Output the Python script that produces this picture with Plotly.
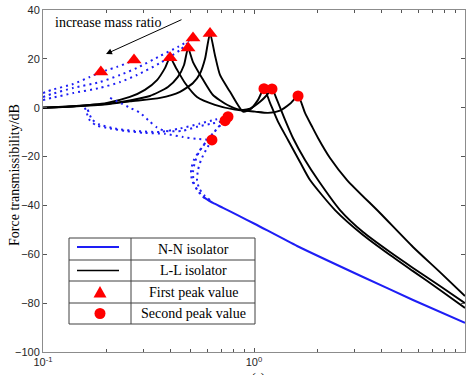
import plotly.graph_objects as go

# ---- L-L isolator (linear), three mass ratios ----
ll_a_f = [0.100, 0.139, 0.201, 0.258, 0.304, 0.347, 0.379, 0.400, 0.427, 0.471, 0.537, 0.653, 0.813,
          1.011, 1.165, 1.328, 1.481, 1.617, 1.745, 1.883, 2.011, 2.292, 2.760, 3.955, 5.669, 7.61, 10.0]
ll_a_db = [0.0, 0.6, 2.0, 4.4, 7.3, 11.3, 16.3, 20.5, 16.3, 10.1, 4.4, 1.2, -0.8,
           -1.6, -2.1, -1.2, 1.6, 4.8, -2.1, -7.7, -12.4, -20.6, -29.6, -43.1, -57.0, -67.3, -77.1]

ll_b_f = [0.100, 0.139, 0.201, 0.258, 0.321, 0.391, 0.436, 0.466, 0.487, 0.514, 0.567, 0.639, 0.745,
          0.858, 0.957, 1.068, 1.152, 1.217, 1.285, 1.402, 1.530, 1.745, 2.011, 2.557, 3.286, 4.411,
          5.669, 7.61, 10.0]
ll_b_db = [0.0, 0.6, 1.6, 3.0, 4.8, 8.5, 12.6, 17.5, 24.4, 18.7, 12.2, 5.2, 1.2,
           -0.8, -0.4, 2.4, 5.2, 7.7, 3.2, -4.9, -12.4, -21.4, -29.6, -41.9, -50.9, -59.1,
           -65.6, -73.0, -80.0]

ll_c_f = [0.100, 0.139, 0.201, 0.258, 0.359, 0.446, 0.514, 0.555, 0.586, 0.619, 0.653, 0.690, 0.770,
          0.887, 0.957, 1.045, 1.115, 1.191, 1.299, 1.449, 1.652, 1.843, 2.421, 3.286, 4.411, 5.669,
          7.61, 10.0]
ll_c_db = [0.0, 0.5, 1.4, 2.6, 4.0, 6.5, 10.1, 14.0, 20.0, 30.4, 21.5, 13.4, 6.5,
           -1.6, -0.8, 3.2, 7.8, 2.0, -5.7, -13.2, -22.2, -29.6, -41.9, -52.1, -60.3, -66.9,
           -74.6, -82.0]

# ---- N-N isolator (nonlinear) branches ----
nn_up_1_f = [0.100, 0.110, 0.139, 0.167, 0.188, 0.201, 0.224, 0.258, 0.270]
nn_up_1_db = [6.0, 7.3, 9.7, 12.6, 14.6, 15.4, 16.7, 18.7, 19.5]
nn_up_2_f = [0.100, 0.110, 0.139, 0.186, 0.232, 0.279, 0.359, 0.436, 0.514]
nn_up_2_db = [4.4, 5.6, 8.1, 10.5, 13.4, 16.3, 21.2, 24.9, 28.5]
nn_up_3_f = [0.100, 0.110, 0.139, 0.186, 0.232, 0.279, 0.359, 0.446, 0.514]
nn_up_3_db = [3.2, 4.0, 6.0, 8.1, 10.5, 13.4, 18.3, 23.6, 28.5]

nn_low_1_f = [0.158, 0.167, 0.180, 0.208, 0.245, 0.304, 0.379, 0.461, 0.543, 0.632]
nn_low_1_db = [0.0, -5.3, -7.3, -8.5, -9.5, -10.3, -10.7, -12.0, -12.8, -13.2]
nn_low_2_f = [0.208, 0.258, 0.288, 0.321, 0.347, 0.379, 0.456, 0.543, 0.632, 0.729]
nn_low_2_db = [4.0, 0.0, -2.1, -5.7, -8.1, -9.5, -9.5, -7.7, -6.5, -5.3]
nn_low_3_f = [0.163, 0.171, 0.186, 0.219, 0.273, 0.359, 0.446, 0.555, 0.653, 0.753]
nn_low_3_db = [-0.8, -4.9, -6.9, -8.5, -9.5, -9.9, -8.5, -6.5, -4.9, -3.7]

nn_fold_1_f = [0.632, 0.592, 0.561, 0.543, 0.537, 0.549, 0.579, 0.619]
nn_fold_1_db = [-13.2, -17.3, -21.4, -25.5, -29.6, -32.9, -35.7, -37.8]
nn_fold_2_f = [0.729, 0.653, 0.592, 0.549, 0.525, 0.514, 0.519, 0.543, 0.586]
nn_fold_2_db = [-5.3, -9.5, -14.0, -18.1, -22.2, -26.3, -30.8, -34.1, -37.0]
nn_fold_3_f = [0.753, 0.675, 0.605, 0.555, 0.519, 0.503, 0.508, 0.531, 0.567, 0.619]
nn_fold_3_db = [-3.7, -8.1, -13.2, -17.3, -21.4, -25.5, -29.6, -32.9, -36.1, -38.2]

nn_tail_f = [0.573, 0.639, 0.713, 0.831, 1.011, 1.600, 3.286, 5.669, 10.0]
nn_tail_db = [-36.5, -39.0, -41.0, -43.9, -47.6, -56.6, -69.3, -78.7, -88.1]

# ---- peak markers ----
first_peak_f = [0.400, 0.487, 0.619, 0.188, 0.270, 0.514]
first_peak_db = [20.5, 24.4, 30.4, 14.6, 19.5, 28.5]
second_peak_f = [1.617, 1.217, 1.115, 0.632, 0.729, 0.753]
second_peak_db = [4.8, 7.7, 7.8, -13.2, -5.3, -3.7]

x_tick_vals = [0.1, 1, 10]
x_tick_text = ["10<sup>-1</sup>", "10<sup>0</sup>", "10<sup>1</sup>"]
y_tick_vals = [-100, -80, -60, -40, -20, 0, 20, 40]

BLUE = "rgb(30,30,245)"
RED = "#ff0000"
SERIF = "Liberation Serif, Times New Roman, serif"
SANS = "Liberation Sans, Arial, sans-serif"

fig = go.Figure()

for f, db in [(ll_a_f, ll_a_db), (ll_b_f, ll_b_db), (ll_c_f, ll_c_db)]:
    fig.add_trace(go.Scatter(x=f, y=db, mode="lines",
                             line=dict(color="black", width=1.9, shape="spline", smoothing=0.6),
                             hoverinfo="skip", showlegend=False))

dotted = [(nn_up_1_f, nn_up_1_db), (nn_up_2_f, nn_up_2_db), (nn_up_3_f, nn_up_3_db),
          (nn_low_1_f, nn_low_1_db), (nn_low_2_f, nn_low_2_db), (nn_low_3_f, nn_low_3_db),
          (nn_fold_1_f, nn_fold_1_db), (nn_fold_2_f, nn_fold_2_db), (nn_fold_3_f, nn_fold_3_db)]
for f, db in dotted:
    fig.add_trace(go.Scatter(x=f, y=db, mode="lines",
                             line=dict(color=BLUE, width=2, dash="2px,4px", shape="spline", smoothing=0.6),
                             hoverinfo="skip", showlegend=False))

fig.add_trace(go.Scatter(x=nn_tail_f, y=nn_tail_db, mode="lines",
                         line=dict(color=BLUE, width=2, shape="spline", smoothing=0.5),
                         hoverinfo="skip", showlegend=False))

fig.add_trace(go.Scatter(x=first_peak_f, y=first_peak_db, mode="markers",
                         marker=dict(symbol="triangle-up", size=13, color=RED),
                         hoverinfo="skip", showlegend=False))
fig.add_trace(go.Scatter(x=second_peak_f, y=second_peak_db, mode="markers",
                         marker=dict(symbol="circle", size=11, color=RED),
                         hoverinfo="skip", showlegend=False))

# ---- table-style key ----
L, R, T, B = 43, 465, 10, 352
W, H = 467, 375


def px(x):
    return (x - L) / (R - L)


def py(y):
    return (B - y) / (B - T)


shapes = []
box_l, box_r, box_t, box_b, col = 69, 255, 238, 324, 131
row_lines = [260, 281, 303]
shapes.append(dict(type="rect", xref="paper", yref="paper", x0=px(box_l), x1=px(box_r),
                   y0=py(box_b), y1=py(box_t), line=dict(color="#404040", width=1),
                   fillcolor="white", layer="above"))
shapes.append(dict(type="line", xref="paper", yref="paper", x0=px(col), x1=px(col),
                   y0=py(box_b), y1=py(box_t), line=dict(color="#404040", width=1)))
for ry in row_lines:
    shapes.append(dict(type="line", xref="paper", yref="paper", x0=px(box_l), x1=px(box_r),
                       y0=py(ry), y1=py(ry), line=dict(color="#404040", width=1)))
shapes.append(dict(type="line", xref="paper", yref="paper", x0=px(77), x1=px(119),
                   y0=py(247), y1=py(247), line=dict(color=BLUE, width=2)))
shapes.append(dict(type="line", xref="paper", yref="paper", x0=px(77), x1=px(119),
                   y0=py(270.5), y1=py(270.5), line=dict(color="black", width=1.5)))
shapes.append(dict(type="path", xref="paper", yref="paper", xsizemode="pixel", ysizemode="pixel",
                   xanchor=px(100), yanchor=py(292),
                   path="M -6.5 -5.5 L 6.5 -5.5 L 0 6 Z", fillcolor=RED, line=dict(width=0)))
shapes.append(dict(type="circle", xref="paper", yref="paper", xsizemode="pixel", ysizemode="pixel",
                   xanchor=px(100), yanchor=py(313.5), x0=-5.5, x1=5.5, y0=-5.5, y1=5.5,
                   fillcolor=RED, line=dict(width=0)))

annotations = []
key_labels = ["N-N isolator", "L-L isolator", "First peak value", "Second peak value"]
key_rows = [249, 270.5, 292, 313.5]
for txt, ry in zip(key_labels, key_rows):
    annotations.append(dict(text=txt, xref="paper", yref="paper", x=px((col + box_r) / 2), y=py(ry),
                            showarrow=False, xanchor="center", yanchor="middle",
                            font=dict(family=SERIF, size=14, color="black")))

annotations.append(dict(text="increase mass ratio", xref="paper", yref="paper", x=px(53), y=py(23),
                        showarrow=False, xanchor="left", yanchor="middle",
                        font=dict(family=SERIF, size=14, color="black")))
annotations.append(dict(text="", xref="paper", yref="paper", x=px(106), y=py(54),
                        ax=77, ay=-35, axref="pixel", ayref="pixel", showarrow=True,
                        arrowhead=2, arrowsize=1.2, arrowwidth=1, arrowcolor="black"))
annotations.append(dict(text="Force transmissibility/dB", xref="paper", yref="paper",
                        x=px(15), y=py(175), textangle=-90, showarrow=False,
                        xanchor="center", yanchor="middle",
                        font=dict(family=SERIF, size=14, color="black")))
annotations.append(dict(text="ω(-)", xref="paper", yref="paper", x=px(254), y=py(379),
                        showarrow=False, xanchor="center", yanchor="middle",
                        font=dict(family=SERIF, size=14, color="black")))

minor_x = [0.2, 0.3, 0.4, 0.5, 0.6, 0.7, 0.8, 0.9, 2, 3, 4, 5, 6, 7, 8, 9]

fig.update_layout(
    width=W, height=H,
    margin=dict(l=L, r=W - R, t=T, b=H - B),
    paper_bgcolor="white", plot_bgcolor="white",
    shapes=shapes, annotations=annotations,
    xaxis=dict(type="log", range=[-1, 1], tickvals=x_tick_vals, ticktext=x_tick_text,
               ticks="inside", ticklen=4, tickcolor="#555", showline=True, linecolor="#8c8c8c",
               linewidth=1, mirror="ticks", showgrid=False, zeroline=False,
               tickfont=dict(family=SANS, size=11, color="#262626"),
               minor=dict(tickvals=minor_x, ticks="inside", ticklen=3, tickcolor="#555", showgrid=False)),
    yaxis=dict(range=[-100, 40], tickvals=y_tick_vals, ticks="inside", ticklen=4, tickcolor="#555",
               showline=True, linecolor="#8c8c8c", linewidth=1, mirror="ticks", showgrid=False,
               zeroline=False, tickfont=dict(family=SANS, size=11, color="#262626")),
)

fig.write_html("out.html")
